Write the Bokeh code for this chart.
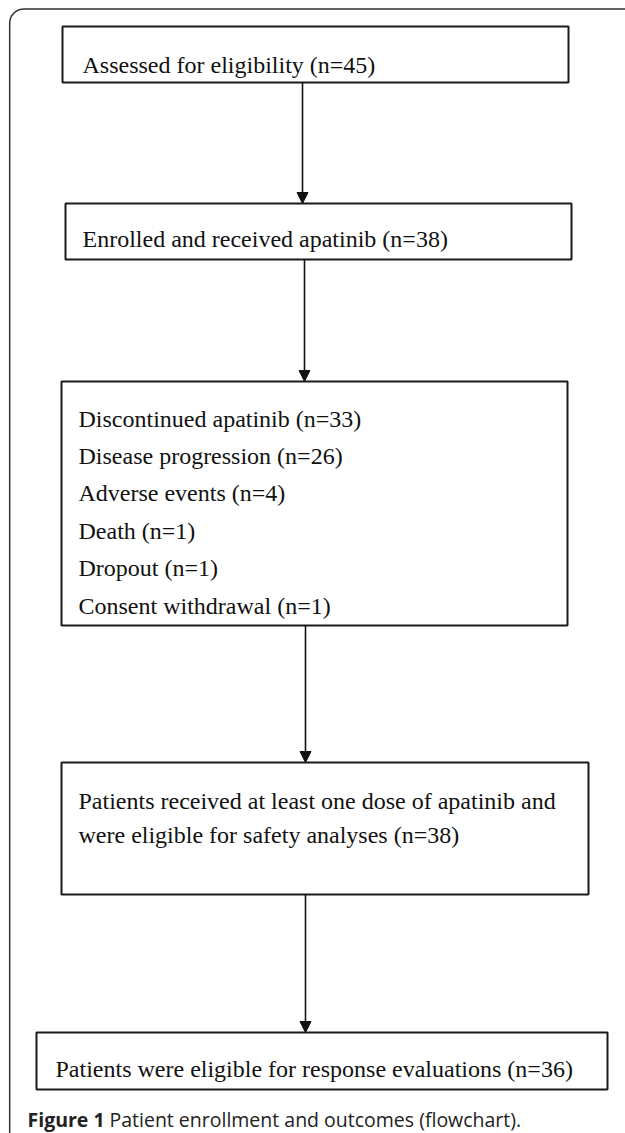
import numpy as np
from bokeh.plotting import figure
from bokeh.models import Range1d, ColumnDataSource, Arrow, NormalHead
from bokeh.core.properties import value
from bokeh.embed import file_html
from bokeh.resources import INLINE

# ---------------- data ----------------
stage_labels = [
    "Assessed for eligibility",
    "Enrolled and received apatinib",
    "Discontinued apatinib",
    "Patients received at least one dose of apatinib and were eligible for safety analyses",
    "Patients were eligible for response evaluations",
]
stage_n = [45, 38, 33, 38, 36]
reason_labels = ["Disease progression", "Adverse events", "Death", "Dropout", "Consent withdrawal"]
reason_n = [26, 4, 1, 1, 1]
caption_bold = "Figure 1"
caption_text = "Patient enrollment and outcomes (flowchart)."

# ---------------- layout (page pixel coordinates) ----------------
box_left = [62, 65, 61, 61, 36]
box_right = [568, 571, 567, 588, 607]
box_top = [26, 203, 381, 762, 1032]
box_bottom = [82, 259, 625, 894, 1089]
text_x = [82, 82, 78, 78, 55]
text_base = [64, 238, 418, 800, 1068]
line_step = [0, 0, 37.4, 34.5, 0]
arrow_x = [302, 304, 305, 305]

FONT = "Liberation Serif"
INK = "#111111"

p = figure(width=625, height=1133,
           x_range=Range1d(0, 625), y_range=Range1d(1133, 0),
           output_backend="svg", toolbar_location=None, min_border=0,
           x_axis_type=None, y_axis_type=None)
p.xgrid.grid_line_color = None
p.ygrid.grid_line_color = None
p.outline_line_color = None
p.background_fill_color = "white"
p.border_fill_color = "white"

# outer frame (top + left edges with rounded corner)
r = 14
fx, fy = 9.2, 8.6
th = np.linspace(np.pi, 1.5 * np.pi, 20)
frame_x = [fx] + list(fx + r + r * np.cos(th)) + [700]
frame_y = [1200] + list(fy + r + r * np.sin(th)) + [fy]
p.line(frame_x, frame_y, line_color="#333333", line_width=1.5)

# boxes
p.quad(left=box_left, right=box_right, top=box_top, bottom=box_bottom,
       fill_color="white", line_color="#1a1a1a", line_width=2)

# text lines
tx, ty, tt = [], [], []
for i, (lab, n) in enumerate(zip(stage_labels, stage_n)):
    full = f"{lab} (n={n})"
    if i == 3:
        words = full.split(" ")
        lines = [" ".join(words[:9]), " ".join(words[9:])]
    elif i == 2:
        lines = [full] + [f"{rl} (n={rn})" for rl, rn in zip(reason_labels, reason_n)]
    else:
        lines = [full]
    for k, ln in enumerate(lines):
        tx.append(text_x[i])
        ty.append(text_base[i] + k * line_step[i])
        tt.append(ln)
src = ColumnDataSource(dict(x=tx, y=ty, text=tt))
p.text(x="x", y="y", text="text", source=src, text_font=value(FONT),
       text_font_size="24px", text_color=INK, text_baseline="alphabetic",
       text_align="left")

# arrows
asrc = ColumnDataSource(dict(x0=arrow_x, y0=box_bottom[:-1], x1=arrow_x, y1=box_top[1:]))
p.add_layout(Arrow(end=NormalHead(size=11, fill_color=INK, line_color=INK, line_width=1),
                   x_start="x0", y_start="y0", x_end="x1", y_end="y1",
                   source=asrc, line_color=INK, line_width=1.6))

# caption
p.text(x=[27], y=[1119], text=[caption_bold], text_font=value("Open Sans"),
       text_font_size="19.5px", text_font_style="bold", text_color="#222222",
       text_baseline="alphabetic", text_align="left")
p.text(x=[109], y=[1119], text=[caption_text], text_font=value("Open Sans"),
       text_font_size="19.5px", text_color="#222222",
       text_baseline="alphabetic", text_align="left")

open("out.html", "w").write(file_html(p, INLINE))
